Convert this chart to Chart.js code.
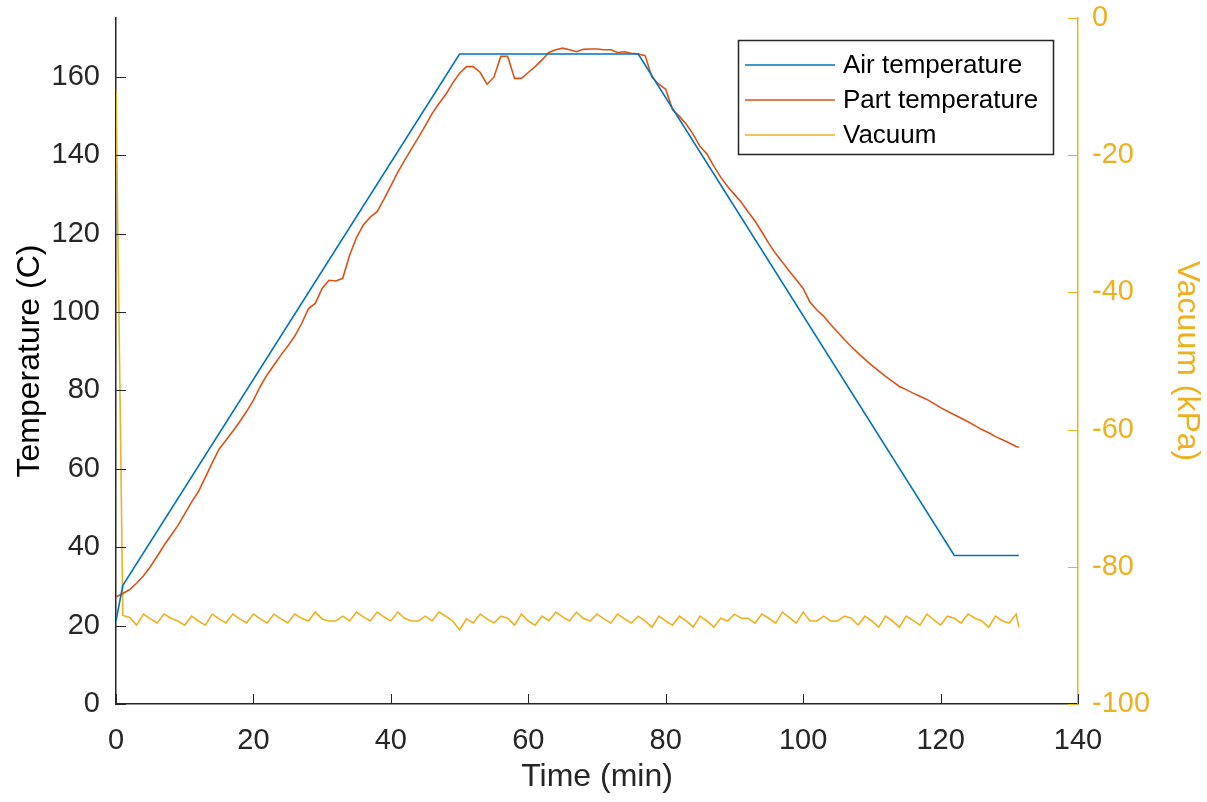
<!DOCTYPE html>
<html>
<head>
<meta charset="utf-8">
<script src="https://cdn.jsdelivr.net/npm/chart.js@4.4.1/dist/chart.umd.min.js"></script>
<style>
  html, body { margin: 0; padding: 0; background: #fff; }
  #wrap { width: 1207px; height: 802px; }
</style>
</head>
<body>
<div id="wrap"><canvas id="cureChart" width="1207" height="802"></canvas></div>
<script>
// sample times (min) for the part temperature and vacuum logs
const timeMin = [
  0, 1, 2, 3, 4, 5, 6, 7, 8, 9, 10, 11, 12, 13, 14, 15, 16, 17, 18, 19,
  20, 21, 22, 23, 24, 25, 26, 27, 28, 29, 30, 31, 32, 33, 34, 35, 36, 37, 38, 39,
  40, 41, 42, 43, 44, 45, 46, 47, 48, 49, 50, 51, 52, 53, 54, 55, 56, 57, 58, 59,
  60, 61, 62, 63, 64, 65, 66, 67, 68, 69, 70, 71, 72, 73, 74, 75, 76, 77, 78, 79,
  80, 81, 82, 83, 84, 85, 86, 87, 88, 89, 90, 91, 92, 93, 94, 95, 96, 97, 98, 99,
  100, 101, 102, 103, 104, 105, 106, 107, 108, 109, 110, 111, 112, 113, 114, 115, 116, 117, 118, 119,
  120, 121, 122, 123, 124, 125, 126, 127, 128, 129, 130, 131, 131.4
];

const partTemp = [
  27.3, 28.2, 29.2, 30.8, 32.7, 35.0, 37.7, 40.5, 43.0, 45.5,
  48.5, 51.5, 54.2, 57.8, 61.5, 65.0, 67.3, 69.6, 72.0, 74.6,
  77.5, 81.0, 84.0, 86.5, 89.0, 91.3, 93.8, 97.0, 100.8, 102.2,
  106.0, 108.1, 107.9, 108.6, 114.5, 119.0, 122.2, 124.2, 125.6, 128.8,
  132.2, 135.6, 138.7, 141.6, 144.5, 147.5, 150.6, 153.2, 155.5, 158.4,
  160.9, 162.6, 162.6, 161.1, 158.1, 159.9, 165.2, 165.2, 159.6, 159.6,
  161.1, 162.6, 164.3, 166.2, 166.9, 167.3, 166.9, 166.4, 167.0, 167.1,
  167.1, 166.9, 166.9, 166.2, 166.4, 166.0, 165.8, 165.4, 159.9, 158.1,
  156.8, 151.6, 149.9, 147.9, 145.3, 142.2, 140.3, 137.2, 134.4, 132.0,
  130.0, 128.0, 125.5, 123.2, 120.4, 117.5, 114.9, 112.7, 110.4, 108.2,
  106.0, 102.5, 100.5, 98.9, 96.8, 94.9, 93.0, 91.2, 89.5, 87.9,
  86.4, 85.0, 83.6, 82.3, 81.0, 80.2, 79.3, 78.5, 77.7, 76.7,
  75.6, 74.7, 73.8, 72.9, 72.0, 71.0, 70.0, 69.2, 68.2, 67.4,
  66.6, 65.7, 65.5
];

const vacuumKpa = [
  -10.5, -87.1, -87.4, -88.5, -86.9, -87.6, -88.2, -86.9, -87.5, -87.9,
  -88.5, -87.2, -87.9, -88.5, -86.9, -87.6, -88.2, -86.9, -87.6, -88.2,
  -86.9, -87.6, -88.2, -86.9, -87.6, -88.2, -86.9, -87.5, -87.9, -86.6,
  -87.6, -87.9, -87.9, -87.2, -87.9, -86.6, -87.3, -87.9, -86.6, -87.3,
  -87.9, -86.6, -87.5, -87.9, -87.9, -87.2, -87.9, -86.6, -87.2, -87.9,
  -89.2, -87.6, -88.2, -86.9, -87.6, -88.2, -87.2, -87.5, -88.5, -86.9,
  -87.9, -88.5, -87.2, -87.9, -86.6, -87.3, -87.9, -86.6, -87.5, -87.9,
  -86.9, -87.6, -88.2, -86.9, -87.6, -88.2, -87.2, -87.9, -88.8, -87.2,
  -87.9, -88.5, -87.2, -87.9, -88.8, -87.2, -87.9, -88.8, -87.5, -87.9,
  -86.9, -87.5, -87.5, -88.2, -86.9, -87.5, -88.2, -86.6, -87.4, -88.2,
  -86.6, -87.9, -87.9, -87.2, -87.9, -87.9, -87.2, -87.5, -88.5, -87.2,
  -87.9, -88.8, -87.2, -87.9, -88.8, -87.2, -87.8, -88.5, -86.9, -87.7,
  -88.5, -87.2, -87.5, -88.2, -86.9, -87.5, -87.9, -88.8, -87.2, -87.9,
  -88.2, -86.9, -88.8
];

// oven set-point profile: ramp, soak, ramp down, hold
const airTime = [0, 1, 50, 76, 122, 131.4];
const airTemp = [21.2, 30.3, 165.8, 165.8, 37.9, 37.9];

const xTicks = [0, 20, 40, 60, 80, 100, 120, 140];
const tempTicks = [0, 20, 40, 60, 80, 100, 120, 140, 160];
const vacTicks = [-100, -80, -60, -40, -20, 0];

const AXIS = "#262626";
const BLUE = "#0072BD";
const ORANGE = "#D95319";
const YELLOW = "#EDB120";
const FONT = "'Liberation Sans', Arial, Helvetica, sans-serif";

function toPoints(xs, ys) {
  return xs.map((x, i) => ({ x: x, y: ys[i] }));
}

// fixed axis boxes so the plot area lands where the original one is
function fixBox(size) {
  return (s) => {
    if (s.isHorizontal()) {
      s.height = size;
      s.paddingLeft = 0;
      s.paddingRight = 0;
    } else {
      s.width = size;
      s.paddingTop = 0;
      s.paddingBottom = 0;
    }
  };
}

// MATLAB style tick marks pointing into the plot area
const inwardTicks = {
  id: "inwardTicks",
  afterDraw(chart) {
    const { ctx, chartArea, scales } = chart;
    const len = 10;
    ctx.save();
    ctx.lineWidth = 1;
    ctx.strokeStyle = AXIS;
    scales.x.ticks.forEach((t) => {
      const px = Math.round(scales.x.getPixelForValue(t.value)) + 0.5;
      ctx.beginPath();
      ctx.moveTo(px, chartArea.bottom);
      ctx.lineTo(px, chartArea.bottom - len);
      ctx.stroke();
    });
    scales.y.ticks.forEach((t) => {
      const py = Math.round(scales.y.getPixelForValue(t.value)) + 0.5;
      ctx.beginPath();
      ctx.moveTo(chartArea.left, py);
      ctx.lineTo(chartArea.left + len, py);
      ctx.stroke();
    });
    ctx.strokeStyle = YELLOW;
    scales.y2.ticks.forEach((t) => {
      const py = Math.round(scales.y2.getPixelForValue(t.value)) + 0.5;
      ctx.beginPath();
      ctx.moveTo(chartArea.right, py);
      ctx.lineTo(chartArea.right - len, py);
      ctx.stroke();
    });
    ctx.restore();
  },
};

// boxed legend inside the top right of the axes
const boxLegend = {
  id: "boxLegend",
  afterDraw(chart) {
    const { ctx } = chart;
    const left = 738, top = 40, w = 315, h = 114;
    ctx.save();
    ctx.fillStyle = "#fff";
    ctx.fillRect(left, top, w, h);
    ctx.strokeStyle = AXIS;
    ctx.lineWidth = 1.5;
    ctx.strokeRect(left + 0.5, top + 0.5, w, h);
    ctx.font = "26px " + FONT;
    ctx.textBaseline = "middle";
    ctx.textAlign = "left";
    chart.data.datasets.forEach((ds, i) => {
      const cy = top + 25 + i * 35;
      ctx.strokeStyle = ds.borderColor;
      ctx.lineWidth = 1.5;
      ctx.beginPath();
      ctx.moveTo(left + 7, cy);
      ctx.lineTo(left + 97, cy);
      ctx.stroke();
      ctx.fillStyle = "#000";
      ctx.fillText(ds.label, left + 105, cy + 1);
    });
    ctx.restore();
  },
};

new Chart(document.getElementById("cureChart"), {
  type: "line",
  data: {
    datasets: [
      {
        label: "Air temperature",
        data: toPoints(airTime, airTemp),
        borderColor: BLUE,
        yAxisID: "y",
      },
      {
        label: "Part temperature",
        data: toPoints(timeMin, partTemp),
        borderColor: ORANGE,
        yAxisID: "y",
      },
      {
        label: "Vacuum",
        data: toPoints(timeMin, vacuumKpa),
        borderColor: YELLOW,
        yAxisID: "y2",
      },
    ],
  },
  options: {
    responsive: false,
    animation: false,
    devicePixelRatio: 1,
    layout: { padding: { top: 18, left: 0, right: 0, bottom: 0 } },
    elements: {
      point: { radius: 0 },
      line: { borderWidth: 1.6, tension: 0, fill: false },
    },
    plugins: {
      legend: { display: false },
      tooltip: { enabled: false },
    },
    scales: {
      x: {
        type: "linear",
        position: "bottom",
        min: 0,
        max: 140,
        afterBuildTicks: (s) => { s.ticks = xTicks.map((v) => ({ value: v })); },
        afterFit: fixBox(98),
        grid: { display: false, drawTicks: false },
        border: { display: true, color: AXIS, width: 1.5 },
        ticks: { color: AXIS, padding: 20, font: { family: FONT, size: 29 } },
        title: {
          display: true,
          text: "Time (min)",
          color: AXIS,
          font: { family: FONT, size: 32 },
          padding: { top: 0, bottom: 6 },
        },
      },
      y: {
        type: "linear",
        position: "left",
        min: 0,
        max: 175,
        afterBuildTicks: (s) => { s.ticks = tempTicks.map((v) => ({ value: v })); },
        afterFit: fixBox(116),
        grid: { display: false, drawTicks: false },
        border: { display: true, color: AXIS, width: 1.5 },
        ticks: { color: AXIS, padding: 16, font: { family: FONT, size: 29 } },
        title: {
          display: true,
          text: "Temperature (C)",
          color: "#000",
          font: { family: FONT, size: 32 },
          padding: { top: 11, bottom: 0 },
        },
      },
      y2: {
        type: "linear",
        position: "right",
        min: -100,
        max: 0,
        afterBuildTicks: (s) => { s.ticks = vacTicks.map((v) => ({ value: v })); },
        afterFit: fixBox(129),
        grid: { display: false, drawTicks: false },
        border: { display: true, color: YELLOW, width: 1.5 },
        ticks: { color: YELLOW, padding: 14, font: { family: FONT, size: 29 } },
        title: {
          display: true,
          text: "Vacuum (kPa)",
          color: YELLOW,
          font: { family: FONT, size: 32 },
          padding: { top: 1, bottom: 0 },
        },
      },
    },
  },
  plugins: [inwardTicks, boxLegend],
});
</script>
</body>
</html>
